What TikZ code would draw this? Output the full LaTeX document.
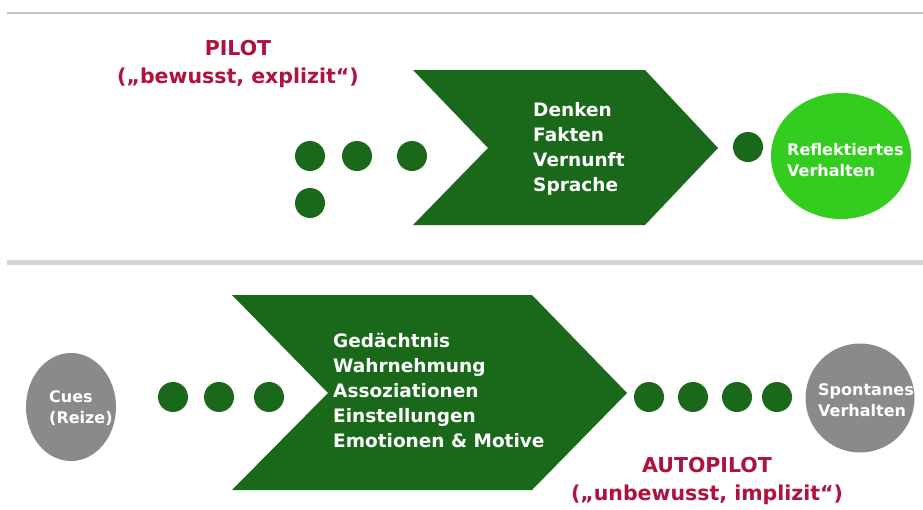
\documentclass[tikz,border=0pt]{standalone}
\usepackage{fontspec}
\setmainfont{DejaVu Sans}
\usetikzlibrary{shapes.geometric}
\definecolor{dkgreen}{RGB}{26,104,26}
\definecolor{brgreen}{RGB}{52,204,30}
\definecolor{cgray}{RGB}{138,138,138}
\definecolor{pilotred}{RGB}{176,18,62}
\definecolor{topline}{RGB}{185,202,185}
\definecolor{midline}{RGB}{212,212,212}
\tikzset{
  dotnode/.style={circle,fill=dkgreen,minimum size=30pt,inner sep=0pt},
  chevron/.style={fill=dkgreen},
  chevtext/.style={anchor=west,align=left,text=white,inner sep=0pt,
    font=\bfseries\fontsize{18.5}{25}\selectfont},
  circtext/.style={align=left,text=white,inner sep=0pt,
    font=\bfseries\fontsize{16}{20.5}\selectfont},
  modelabel/.style={align=center,text=pilotred,inner sep=0pt,
    font=\bfseries\fontsize{20.5}{28}\selectfont}
}
\begin{document}
\begin{tikzpicture}[x=1pt,y=-1pt]
\useasboundingbox (0,0) rectangle (923,509);
\fill[white] (0,0) rectangle (923,509);
% separator lines
\coordinate (tl1) at (7,13);
\coordinate (tl2) at (923,13);
\draw[topline,line width=1.5pt] (tl1) -- (tl2);
\coordinate (ml1) at (7,262);
\coordinate (ml2) at (923,262);
\draw[midline,line width=5pt] (ml1) -- (ml2);

% ---------- PILOT row ----------
\node[modelabel] (pilot) at (238,64) {PILOT\\(„bewusst, explizit“)};
\fill[chevron] (413,70) -- (645,70) -- (718,148) -- (645,225) -- (413,225) -- (488,148) -- cycle;
\node[chevtext] (ptext) at (533,149) {Denken\\Fakten\\Vernunft\\Sprache};
\node[dotnode] (pd1) at (310,156) {};
\node[dotnode] (pd2) at (357,156) {};
\node[dotnode] (pd3) at (412,156) {};
\node[dotnode] (pd4) at (310,203) {};
\node[dotnode] (pd5) at (748,147) {};
\node[ellipse,fill=brgreen,minimum width=140pt,minimum height=126pt,inner sep=0pt] (refl) at (841,156) {};
\node[circtext,anchor=west] (refltext) at (787,160) {Reflektiertes\\Verhalten};

% ---------- AUTOPILOT row ----------
\node[ellipse,fill=cgray,minimum width=90pt,minimum height=108pt,inner sep=0pt] (cues) at (71,407) {};
\node[circtext,anchor=west] (cuestext) at (49,408) {Cues\\(Reize)};
\node[dotnode] (ad1) at (173,397) {};
\node[dotnode] (ad2) at (219,397) {};
\node[dotnode] (ad3) at (269,397) {};
\fill[chevron] (232,295) -- (532,295) -- (627,393) -- (532,490) -- (232,490) -- (328,393) -- cycle;
\node[chevtext] (atext) at (333,390) {Gedächtnis\\Wahrnehmung\\Assoziationen\\Einstellungen\\Emotionen \& Motive};
\node[dotnode] (bd1) at (649,397) {};
\node[dotnode] (bd2) at (693,397) {};
\node[dotnode] (bd3) at (737,397) {};
\node[dotnode] (bd4) at (777,397) {};
\node[circle,fill=cgray,minimum size=109pt,inner sep=0pt] (spont) at (860,398) {};
\node[circtext,anchor=west] (sponttext) at (818,400) {Spontanes\\Verhalten};
\node[modelabel] (autopilot) at (707,481) {AUTOPILOT\\(„unbewusst, implizit“)};
\end{tikzpicture}
\end{document}
